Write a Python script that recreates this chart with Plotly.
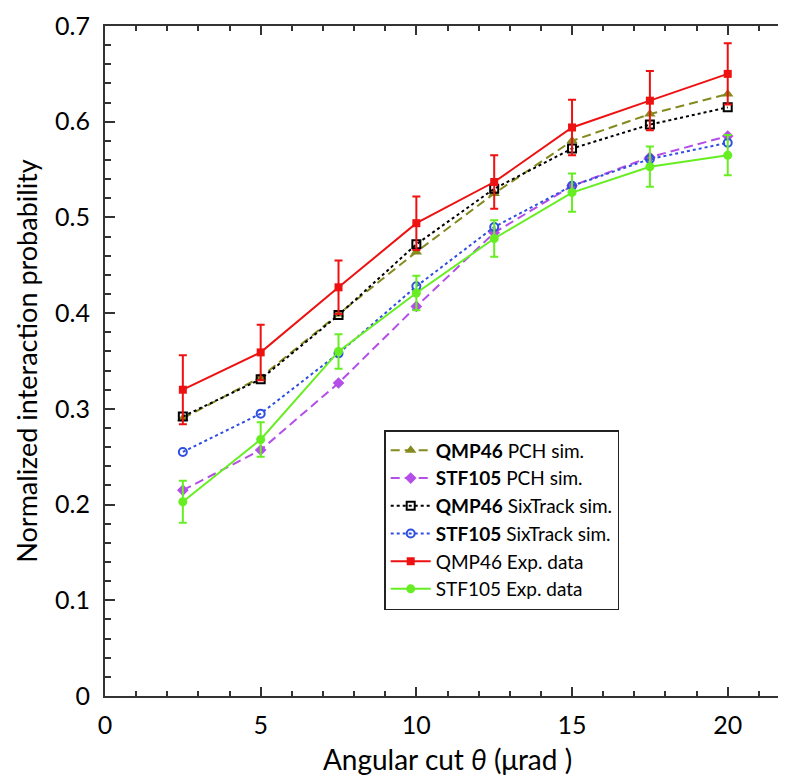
import plotly.graph_objects as go

# Data
angular_cut = [2.5, 5, 7.5, 10, 12.5, 15, 17.5, 20]
qmp46_pch = [0.290, 0.333, 0.399, 0.464, 0.525, 0.580, 0.608, 0.629]
stf105_pch = [0.215, 0.257, 0.327, 0.407, 0.484, 0.533, 0.563, 0.585]
qmp46_sixtrack = [0.292, 0.331, 0.398, 0.472, 0.530, 0.572, 0.597, 0.615]
stf105_sixtrack = [0.255, 0.295, 0.358, 0.428, 0.490, 0.533, 0.561, 0.578]
qmp46_exp = [0.320, 0.359, 0.427, 0.494, 0.537, 0.594, 0.622, 0.650]
qmp46_exp_err = [0.036, 0.029, 0.028, 0.028, 0.028, 0.029, 0.031, 0.032]
stf105_exp = [0.203, 0.268, 0.360, 0.421, 0.478, 0.526, 0.553, 0.565]
stf105_exp_err = [0.022, 0.018, 0.018, 0.018, 0.019, 0.020, 0.021, 0.021]

x_tickvals = [0, 5, 10, 15, 20]
y_tickvals = [0, 0.1, 0.2, 0.3, 0.4, 0.5, 0.6, 0.7]
y_ticktext = ["0", "0.1", "0.2", "0.3", "0.4", "0.5", "0.6", "0.7"]

FONT = "Lato, 'Open Sans', sans-serif"

fig = go.Figure()

fig.add_trace(go.Scatter(
    x=angular_cut, y=qmp46_pch, mode="lines+markers",
    name="<b>QMP46</b> PCH sim.",
    line=dict(color="#858a1e", width=2, dash="9px,5px"),
    marker=dict(symbol="triangle-up", size=10, color="#858a1e"),
))
fig.add_trace(go.Scatter(
    x=angular_cut, y=stf105_pch, mode="lines+markers",
    name="<b>STF105</b> PCH sim.",
    line=dict(color="#b54ee8", width=2, dash="9px,5px"),
    marker=dict(symbol="diamond", size=9, color="#b54ee8"),
))
fig.add_trace(go.Scatter(
    x=angular_cut, y=qmp46_sixtrack, mode="lines+markers",
    name="<b>QMP46</b> SixTrack sim.",
    line=dict(color="#000000", width=2, dash="3px,3px"),
    marker=dict(symbol="square-open", size=8, color="#000000", line=dict(width=2)),
))
fig.add_trace(go.Scatter(
    x=angular_cut, y=stf105_sixtrack, mode="lines+markers",
    name="<b>STF105</b> SixTrack sim.",
    line=dict(color="#2f4fe0", width=2, dash="3px,3px"),
    marker=dict(symbol="circle-open", size=8, color="#2f4fe0", line=dict(width=2)),
))
fig.add_trace(go.Scatter(
    x=angular_cut, y=qmp46_exp, mode="lines+markers",
    name="QMP46 Exp. data",
    line=dict(color="#ee1111", width=2),
    marker=dict(symbol="square", size=8, color="#ee1111"),
    error_y=dict(type="data", array=qmp46_exp_err, color="#ee1111", thickness=2, width=4),
))
fig.add_trace(go.Scatter(
    x=angular_cut, y=stf105_exp, mode="lines+markers",
    name="STF105 Exp. data",
    line=dict(color="#66ee22", width=2),
    marker=dict(symbol="circle", size=9, color="#66ee22"),
    error_y=dict(type="data", array=stf105_exp_err, color="#66ee22", thickness=2, width=4),
))

axis_common = dict(
    showline=True, linecolor="#333333", linewidth=2, mirror="allticks",
    ticks="inside", tickcolor="#333333", tickwidth=1.5,
    showgrid=False, zeroline=False,
    ticklabeloverflow="allow",
    tickfont=dict(family=FONT, size=25, color="#000000"),
)

fig.update_xaxes(
    range=[0, 22], tickvals=x_tickvals, ticklen=9,
    minor=dict(ticks="inside", dtick=1, ticklen=5, tickcolor="#333333", tickwidth=1.5),
    ticklabelstandoff=6,
    title=dict(text="\u00a0\u00a0\u00a0Angular cut <i>θ</i> (μrad )",
               font=dict(family=FONT, size=28, color="#000000"), standoff=12),
    **axis_common,
)
fig.update_yaxes(
    range=[0, 0.70001], tickvals=y_tickvals, ticktext=y_ticktext, ticklen=10,
    minor=dict(ticks="inside", dtick=0.02, ticklen=6, tickcolor="#333333", tickwidth=1.5),
    ticklabelstandoff=8,
    title=dict(text="Normalized interaction probability",
               font=dict(family=FONT, size=27, color="#000000"), standoff=10),
    **axis_common,
)

fig.update_layout(
    width=786, height=776,
    margin=dict(l=97, r=2, t=13, b=88),
    paper_bgcolor="white", plot_bgcolor="white",
    font=dict(family=FONT, color="#000000"),
    showlegend=True,
    legend=dict(
        x=0.4076, y=0.397, xanchor="left", yanchor="top",
        bgcolor="white", bordercolor="#222222", borderwidth=1.5,
        font=dict(family=FONT, size=19, color="#000000"),
        itemwidth=40,
    ),
)

fig.write_html("out.html")
